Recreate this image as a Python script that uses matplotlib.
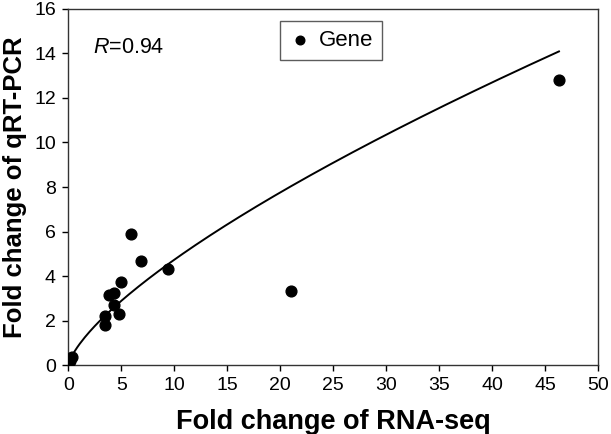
import numpy as np
import matplotlib
matplotlib.use('Agg')
import matplotlib.pyplot as plt

plt.rcParams['font.family'] = ['Liberation Sans', 'DejaVu Sans']
plt.rcParams['mathtext.fontset'] = 'custom'
plt.rcParams['mathtext.it'] = 'Liberation Sans:italic'
plt.rcParams['mathtext.rm'] = 'Liberation Sans'

# Fold changes
rnaseq = [0.15, 0.30, 3.45, 3.45, 3.85, 4.30, 4.30, 4.80, 4.93, 5.86, 6.87, 9.39, 21.0, 46.3]
qrtpcr = [0.22, 0.38, 1.80, 2.20, 3.17, 3.25, 2.72, 2.32, 3.72, 5.90, 4.67, 4.33, 3.32, 12.8]

# power trend line y = a * x^b (as drawn in the figure)
trend_a = 0.925
trend_b = 0.71
r_value = 0.94

x_ticks = [0, 5, 10, 15, 20, 25, 30, 35, 40, 45, 50]
y_ticks = [0, 2, 4, 6, 8, 10, 12, 14, 16]

fig = plt.figure(figsize=(6.11, 4.34), dpi=100)
ax = fig.add_axes([0.112, 0.158, 0.867, 0.822])

xs = np.linspace(min(rnaseq), max(rnaseq), 200)
ax.plot(xs, trend_a * xs ** trend_b, color='black', linewidth=1.4, zorder=2)
ax.scatter(rnaseq, qrtpcr, s=60, color='black', zorder=3, label='Gene')

ax.set_xlim(0, 50)
ax.set_ylim(0, 16)
ax.set_xticks(x_ticks)
ax.set_yticks(y_ticks)
ax.tick_params(direction='out', length=4, width=1, labelsize=14, colors='black')
ax.tick_params(axis='x', pad=4)
ax.tick_params(axis='y', pad=5)
for sp in ax.spines.values():
    sp.set_linewidth(1)
    sp.set_color('#333333')

ax.set_xlabel('Fold change of RNA-seq', fontsize=19.5, fontweight='bold', labelpad=11)
ax.set_ylabel('Fold change of qRT-PCR', fontsize=18.5, fontweight='bold', labelpad=5)

ax.text(0.047, 0.89, '$R$=%.2f' % r_value, transform=ax.transAxes, fontsize=15.5,
        va='center', ha='left')

leg = ax.legend(loc='upper left', bbox_to_anchor=(0.4, 0.966), borderaxespad=0,
                fancybox=False, frameon=True, fontsize=16, handletextpad=0.35,
                borderpad=0.4, handlelength=1.0, markerscale=0.8)
leg.get_frame().set_edgecolor('#333333')
leg.get_frame().set_linewidth(1)

fig.savefig('out.png', dpi=100)
